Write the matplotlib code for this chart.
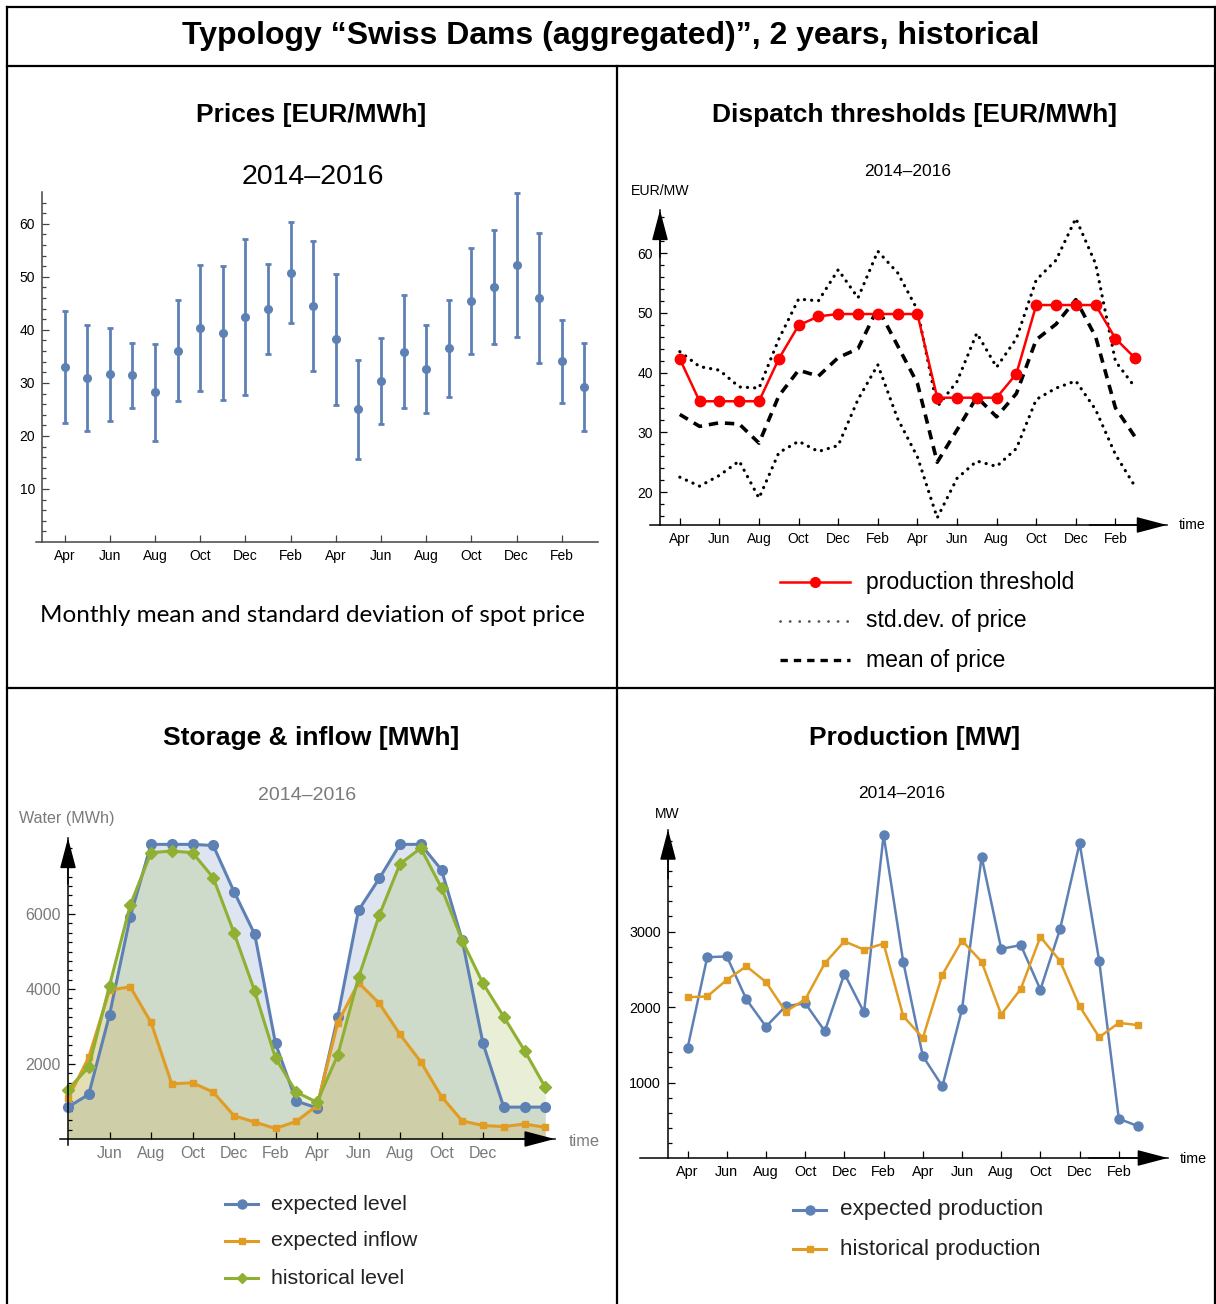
import matplotlib
matplotlib.use("Agg")
import matplotlib.pyplot as plt
from matplotlib.lines import Line2D
from matplotlib.transforms import Affine2D
import numpy as np

W, H = 1216, 1304

# ---------------------------------------------------------------- data
month_names = ["Apr", "May", "Jun", "Jul", "Aug", "Sep",
               "Oct", "Nov", "Dec", "Jan", "Feb", "Mar"] * 2

price_mean = [33.0, 31.0, 31.6, 31.4, 28.2, 36.1, 40.4, 39.4, 42.5, 44.0, 50.8, 44.5,
              38.2, 25.0, 30.4, 35.9, 32.6, 36.5, 45.5, 48.1, 52.2, 46.0, 34.1, 29.2]
price_std = [10.5, 10.0, 8.8, 6.2, 9.2, 9.5, 11.9, 12.6, 14.7, 8.5, 9.5, 12.2,
             12.3, 9.3, 8.1, 10.7, 8.3, 9.2, 10.0, 10.7, 13.6, 12.2, 7.8, 8.3]

production_threshold = [42.3, 35.2, 35.2, 35.2, 35.2, 42.3, 47.9, 49.4, 49.8, 49.8, 49.8, 49.8,
                        49.8, 35.8, 35.8, 35.8, 35.8, 39.8, 51.3, 51.3, 51.3, 51.3, 45.7, 42.4]

expected_level = [850, 1190, 3310, 5930, 7860, 7860, 7860, 7830, 6600, 5460, 2550, 1010,
                  830, 3260, 6100, 6950, 7860, 7860, 7180, 5300, 2550, 850, 850, 850]
expected_inflow = [1080, 2180, 3970, 4060, 3110, 1470, 1500, 1250, 620, 450, 280, 470,
                   890, 3100, 4170, 3620, 2790, 2060, 1130, 480, 360, 330, 400, 310]
historical_level = [1320, 1920, 4090, 6240, 7640, 7680, 7640, 6970, 5500, 3940, 2160, 1250,
                    980, 2240, 4310, 5970, 7340, 7760, 6700, 5290, 4150, 3260, 2360, 1380]

expected_production = [1460, 2660, 2670, 2100, 1740, 2010, 2050, 1680, 2440, 1930, 4280, 2600,
                       1350, 950, 1970, 3990, 2770, 2820, 2230, 3030, 4170, 2610, 520, 420]
historical_production = [2130, 2140, 2360, 2540, 2330, 1940, 2100, 2580, 2870, 2760, 2840, 1880,
                         1590, 2430, 2880, 2600, 1900, 2240, 2930, 2610, 2010, 1600, 1790, 1760]

# ---------------------------------------------------------------- style
BLUE = "#5E81B5"
ORANGE = "#E19C24"
GREEN = "#8FB032"
RED = "#FF0000"
GRAY = "#7a7a7a"
SANS = ["Liberation Sans", "DejaVu Sans"]

plt.rcParams["font.family"] = SANS

fig = plt.figure(figsize=(W / 100, H / 100), dpi=100)
px = Affine2D().scale(1 / W, -1 / H).translate(0, 1) + fig.transFigure


def rect(x0, y0, x1, y1):
    return [x0 / W, 1 - y1 / H, (x1 - x0) / W, (y1 - y0) / H]


def text(x, y, s, size, ha="center", weight="normal", color="black", family=None):
    fig.text(x, y, s, transform=px, ha=ha, va="center", fontsize=size,
             fontweight=weight, color=color, family=family or SANS)


def frame_line(xs, ys, lw=1.6):
    fig.add_artist(Line2D(xs, ys, transform=px, color="black", lw=lw))


def setup_axes(ax, xlim, ylim, tick_color="black", label_color="black", lsize=10):
    ax.set_xlim(*xlim)
    ax.set_ylim(*ylim)
    ax.patch.set_visible(False)
    for s in ("top", "right"):
        ax.spines[s].set_visible(False)
    ax.spines["left"].set_position(("data", 0))
    for s in ("left", "bottom"):
        ax.spines[s].set_color(tick_color)
        ax.spines[s].set_linewidth(1.1)
    ax.tick_params(which="both", direction="in", colors=tick_color,
                   labelcolor=label_color, labelsize=lsize, width=0.9)
    ax.tick_params(which="major", length=5, pad=5)
    ax.tick_params(which="minor", length=2.8)


def add_arrows(ax, x_at, y_at):
    style = "-|>,head_length=0.95,head_width=0.25"
    kw = dict(arrowstyle=style, mutation_scale=20, color="black", lw=1.1,
              shrinkA=0, shrinkB=0)
    ax.annotate("", xy=(x_at, 1.0), xytext=(x_at, 0.85),
                xycoords=ax.get_xaxis_transform(), arrowprops=kw,
                annotation_clip=False)
    ax.annotate("", xy=(1.0, y_at), xytext=(0.85, y_at),
                xycoords=ax.get_yaxis_transform(), arrowprops=kw,
                annotation_clip=False)


def legend_rows(entries, x0, x1, xt, ys, size, color="black"):
    for (style, label), y in zip(entries, ys):
        line = Line2D([x0, x1], [y, y], transform=px, **style["line"])
        fig.add_artist(line)
        if "marker" in style:
            fig.add_artist(Line2D([(x0 + x1) / 2], [y], transform=px, **style["marker"]))
        text(xt, y, label, size, ha="left", color=color)


# ---------------------------------------------------------------- frame
frame_line([7, 1215], [7, 7])
frame_line([7, 7], [7, 1304])
frame_line([1215, 1215], [7, 1304])
frame_line([7, 1215], [66, 66])
frame_line([7, 1215], [688, 688])
frame_line([617, 617], [66, 1304])

text(611, 36, "Typology \u201cSwiss Dams (aggregated)\u201d, 2 years, historical", 23, weight="bold")

# ---------------------------------------------------------------- prices
x24 = np.arange(1, 25)
ax1 = fig.add_axes(rect(36.35, 192, 598, 542))
setup_axes(ax1, (-0.25, 24.6), (0, 66), tick_color="#444444", lsize=10)
ax1.errorbar(x24, price_mean, yerr=price_std, fmt="o", color=BLUE, ms=5.5,
             elinewidth=2, capsize=2.4, capthick=2, clip_on=False)
ax1.set_yticks([10, 20, 30, 40, 50, 60])
ax1.set_yticks(np.arange(2, 66, 2), minor=True)
ax1.set_xticks(x24[::2])
ax1.set_xticklabels(month_names[::2])

text(311, 115, "Prices [EUR/MWh]", 19, weight="bold")
text(313, 177, "2014\u20132016", 20.5)
text(312, 615, "Monthly mean and standard deviation of spot price", 17.5,
     family=["Lato", "DejaVu Sans"])

# ---------------------------------------------------------------- dispatch thresholds
ax2 = fig.add_axes(rect(650.1, 210, 1166.9, 525))
setup_axes(ax2, (-0.5, 25.6), (14.5, 67.2))
mean_arr = np.array(price_mean)
std_arr = np.array(price_std)
dotted = dict(color="black", lw=2.3, linestyle=(0, (0.05, 2.2)), dash_capstyle="round")
dashed = dict(color="black", lw=2.6, linestyle=(0, (2.6, 1.9)))
ax2.plot(x24, mean_arr + std_arr, **dotted)
ax2.plot(x24, mean_arr - std_arr, **dotted)
ax2.plot(x24, mean_arr, **dashed)
ax2.plot(x24, production_threshold, color=RED, lw=1.8, marker="o", ms=7.5)
ax2.set_yticks([20, 30, 40, 50, 60])
ax2.set_yticks(np.arange(16, 67, 2), minor=True)
ax2.set_xticks(x24[::2])
ax2.set_xticklabels(month_names[::2])
add_arrows(ax2, 0, 14.5)

text(915, 115, "Dispatch thresholds [EUR/MWh]", 19, weight="bold")
text(908, 171, "2014\u20132016", 12.5)
text(660, 191, "EUR/MW", 10.2)
text(1179, 525, "time", 10.2, ha="left")

legend_rows(
    [({"line": dict(color=RED, lw=1.8),
       "marker": dict(color=RED, marker="o", ms=7, lw=0)}, "production threshold"),
     ({"line": dict(color="#555555", lw=2, linestyle=(0, (0.05, 3.4)),
                    dash_capstyle="round")}, "std.dev. of price"),
     ({"line": dict(color="black", lw=2.4, linestyle=(0, (2.2, 1.8)))}, "mean of price")],
    780, 850, 866, [582, 621, 660], 16.6)

# ---------------------------------------------------------------- storage & inflow
x0_23 = np.arange(0, 24)
ax3 = fig.add_axes(rect(59.7, 838, 554.6, 1144.6))
setup_axes(ax3, (-0.4, 23.45), (-150, 8030), label_color=GRAY, lsize=11.5)
ax3.spines["bottom"].set_position(("data", 0))
for series, col in ((expected_level, BLUE), (expected_inflow, ORANGE), (historical_level, GREEN)):
    ax3.fill_between(x0_23, 0, series, color=col, alpha=0.2, lw=0)
ax3.plot(x0_23, expected_level, color=BLUE, lw=2.2, marker="o", ms=7)
ax3.plot(x0_23, expected_inflow, color=ORANGE, lw=2.2, marker="s", ms=5)
ax3.plot(x0_23, historical_level, color=GREEN, lw=2.2, marker="D", ms=6)
ax3.set_yticks([2000, 4000, 6000])
ax3.set_yticks(np.arange(250, 8000, 250), minor=True)
ax3.set_xticks(x0_23[2:21:2])
ax3.set_xticklabels(month_names[2:21:2])
add_arrows(ax3, 0, 0)

text(311, 738, "Storage & inflow [MWh]", 19, weight="bold")
text(307, 796, "2014\u20132016", 14, color=GRAY)
text(67, 818, "Water (MWh)", 11.6, color=GRAY)
text(569, 1141, "time", 11.8, ha="left", color=GRAY)

legend_rows(
    [({"line": dict(color=BLUE, lw=2.2), "marker": dict(color=BLUE, marker="o", ms=6.5, lw=0)},
      "expected level"),
     ({"line": dict(color=ORANGE, lw=2.2), "marker": dict(color=ORANGE, marker="s", ms=5, lw=0)},
      "expected inflow"),
     ({"line": dict(color=GREEN, lw=2.2), "marker": dict(color=GREEN, marker="D", ms=5.5, lw=0)},
      "historical level")],
    225, 258, 271, [1204, 1241, 1278], 15.3, color="#222222")

# ---------------------------------------------------------------- production
ax4 = fig.add_axes(rect(640, 829.6, 1167.8, 1158))
setup_axes(ax4, (-1.43, 25.5), (0, 4350), lsize=10.4)
ax4.plot(x24, expected_production, color=BLUE, lw=1.8, marker="o", ms=6.5)
ax4.plot(x24, historical_production, color=ORANGE, lw=1.8, marker="s", ms=5)
ax4.set_yticks([1000, 2000, 3000])
ax4.set_yticks(np.arange(200, 4300, 200), minor=True)
ax4.set_xticks(x24[::2])
ax4.set_xticklabels(month_names[::2])
add_arrows(ax4, 0, 0)

text(915, 738, "Production [MW]", 19, weight="bold")
text(902, 794, "2014\u20132016", 12.5)
text(667, 814, "MW", 10)
text(1180, 1159, "time", 10.3, ha="left")

legend_rows(
    [({"line": dict(color=BLUE, lw=2.2), "marker": dict(color=BLUE, marker="o", ms=6.5, lw=0)},
      "expected production"),
     ({"line": dict(color=ORANGE, lw=2.2), "marker": dict(color=ORANGE, marker="s", ms=5, lw=0)},
      "historical production")],
    793, 826, 840, [1210, 1249], 16.2, color="#222222")

fig.savefig("out.png", dpi=100)
